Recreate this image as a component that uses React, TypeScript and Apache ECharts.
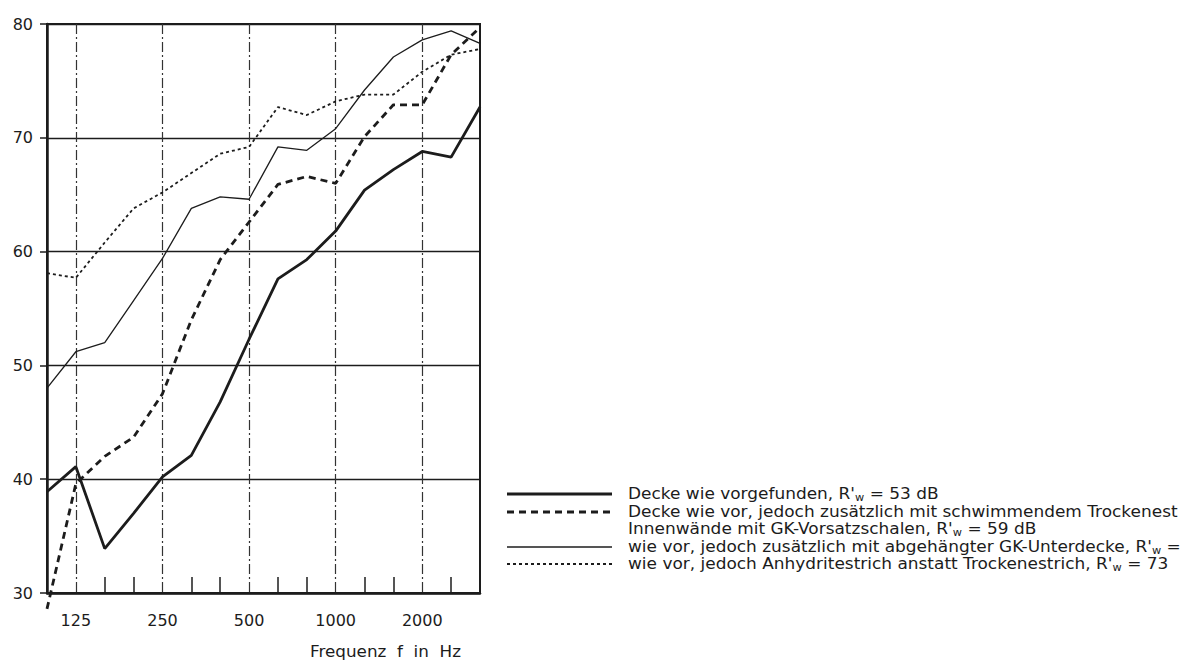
import React, { useEffect, useRef } from "react";
import * as echarts from "echarts";

const freqs = ["100", "125", "160", "200", "250", "315", "400", "500", "630", "800", "1000", "1250", "1600", "2000", "2500", "3150"];
const octaveIdx = [1, 4, 7, 10, 13];
const yTicks = [30, 40, 50, 60, 70, 80];

const sVorgefunden = [38.9, 41.1, 33.9, 37.0, 40.2, 42.1, 46.8, 52.3, 57.6, 59.3, 61.8, 65.4, 67.2, 68.8, 68.3, 72.7];
const sTrockenestrich = [28.6, 39.6, 42.0, 43.7, 47.5, 54.0, 59.3, 62.6, 65.9, 66.6, 66.0, 70.1, 72.9, 72.9, 77.3, 79.7];
const sUnterdecke = [48.0, 51.2, 52.0, 55.7, 59.4, 63.8, 64.8, 64.6, 69.2, 68.9, 70.8, 74.2, 77.1, 78.6, 79.4, 78.3];
const sAnhydrit = [58.1, 57.7, 60.8, 63.8, 65.2, 66.9, 68.6, 69.2, 72.7, 72.0, 73.2, 73.8, 73.8, 75.8, 77.3, 77.8];

const legendLines = [
  "{a|Decke wie vorgefunden, R'}{sub|w}{a| = 53 dB}",
  "{a|Decke wie vor, jedoch zusätzlich mit schwimmendem Trockenest}",
  "{a|Innenwände mit GK-Vorsatzschalen, R'}{sub|w}{a| = 59 dB}",
  "{a|wie vor, jedoch zusätzlich mit abgehängter GK-Unterdecke, R'}{sub|w}{a| =}",
  "{a|wie vor, jedoch Anhydritestrich anstatt Trockenestrich, R'}{sub|w}{a| = 73}",
];
const seriesNames = [
  "Decke wie vorgefunden",
  "Decke wie vor, mit schwimmendem Trockenestrich und GK-Vorsatzschalen",
  "wie vor, mit abgehängter GK-Unterdecke",
  "wie vor, Anhydritestrich anstatt Trockenestrich",
];

const INK = "#1c1c1c";
const FONT = "DejaVu Sans";

export default function App() {
  const ref = useRef<HTMLDivElement>(null);
  useEffect(() => {
    if (!ref.current) return;
    const chart = echarts.init(ref.current, null, { renderer: "svg" });
    const styles = [
      { width: 2.8, type: "solid" as any },
      { width: 2.8, type: [7, 5] as any },
      { width: 1.3, type: "solid" as any },
      { width: 1.8, type: [3, 3] as any },
    ];
    const datas = [sVorgefunden, sTrockenestrich, sUnterdecke, sAnhydrit];
    const legendY = [494, 512, 529, 547, 564];
    const sampleRows = [0, 1, 3, 4];
    const graphic: any[] = [];
    sampleRows.forEach((row, k) => {
      graphic.push({
        type: "line",
        shape: { x1: 507, y1: legendY[row], x2: 612, y2: legendY[row] },
        style: { stroke: INK, lineWidth: styles[k].width, lineDash: Array.isArray(styles[k].type) ? styles[k].type : null },
      });
    });
    legendLines.forEach((t, i) => {
      graphic.push({
        type: "text",
        x: 628,
        y: legendY[i],
        scaleX: 1.13,
        style: {
          text: t,
          fill: INK,
          verticalAlign: "middle",
          rich: {
            a: { fontSize: 15, fontFamily: FONT, fill: INK, lineHeight: 18, verticalAlign: "middle" },
            sub: { fontSize: 10, fontFamily: FONT, fill: INK, lineHeight: 10, verticalAlign: "bottom" },
          },
        },
      });
    });
    graphic.push({
      type: "text",
      x: 310,
      y: 652,
      scaleX: 1.12,
      style: { text: "Frequenz  f  in  Hz", fill: INK, font: `15px "${FONT}"`, verticalAlign: "middle" },
    });

    chart.setOption({
      animation: false,
      backgroundColor: "#ffffff",
      grid: { left: 47, right: 714, top: 24, bottom: 69, show: true, borderColor: INK, borderWidth: 2, containLabel: false },
      xAxis: {
        type: "category",
        data: freqs,
        boundaryGap: false,
        axisLine: { show: true, lineStyle: { color: INK, width: 2.5 } },
        axisTick: {
          show: true,
          inside: true,
          length: 16,
          interval: (i: number) => !octaveIdx.includes(i) && i > 0 && i < 15,
          lineStyle: { color: INK, width: 1.5 },
        },
        axisLabel: {
          interval: (i: number) => octaveIdx.includes(i),
          color: INK,
          fontFamily: FONT,
          fontSize: 16,
          margin: 19,
        },
        splitLine: {
          show: true,
          interval: (i: number) => octaveIdx.includes(i),
          lineStyle: { color: "#333", width: 1.2, type: [10, 3, 2, 3] },
        },
      },
      yAxis: {
        type: "value",
        min: yTicks[0],
        max: yTicks[yTicks.length - 1],
        interval: 10,
        axisLine: { show: true, lineStyle: { color: INK, width: 2.5 } },
        axisTick: { show: true, length: 7, lineStyle: { color: INK, width: 1.5 } },
        axisLabel: { color: INK, fontFamily: FONT, fontSize: 16, margin: 14 },
        splitLine: { show: true, lineStyle: { color: INK, width: 1.3 } },
      },
      series: datas.map((d, k) => ({
        name: seriesNames[k],
        type: "line",
        data: d,
        symbol: "none",
        clip: false,
        lineStyle: { color: INK, width: styles[k].width, type: styles[k].type },
      })),
      graphic,
    });
    return () => chart.dispose();
  }, []);
  return <div ref={ref} style={{ position: "absolute", left: 0, top: 0, width: 1194, height: 662 }} />;
}
